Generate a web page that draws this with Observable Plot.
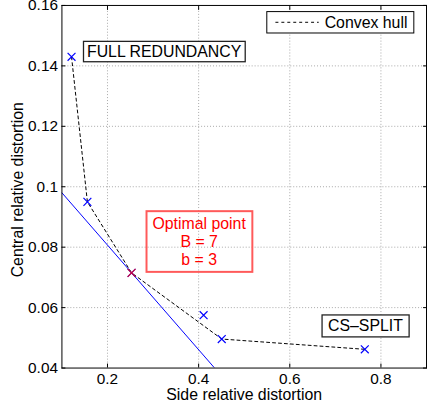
<!DOCTYPE html>
<html><head><meta charset="utf-8">
<script src="https://cdn.jsdelivr.net/npm/d3@7"></script>
<script src="https://cdn.jsdelivr.net/npm/@observablehq/plot@0.6"></script>
<style>
html,body{margin:0;padding:0;background:#fff;overflow:hidden;}
</style>
</head><body>
<div id="chart"></div>
<script>
// ---- data ----
const sideDistortion    = [0.1211, 0.1559, 0.2528, 0.4109, 0.4507, 0.7646];
const centralDistortion = [0.1430, 0.0950, 0.0715, 0.0575, 0.0496, 0.0462];
const hullSide          = [0.1211, 0.1559, 0.2528, 0.4507, 0.7646];
const hullCentral       = [0.1430, 0.0950, 0.0715, 0.0496, 0.0462];
const optimalSide       = [0.2528];
const optimalCentral    = [0.0715];
const tangentSide       = [0.1, 0.435];
const tangentCentral    = [0.0980, 0.0400];
const xTicks = [0.2, 0.4, 0.6, 0.8];
const xTickLabels = ["0.2", "0.4", "0.6", "0.8"];
const yTicks = [0.04, 0.06, 0.08, 0.10, 0.12, 0.14, 0.16];
const yTickLabels = ["0.04", "0.06", "0.08", "0.1", "0.12", "0.14", "0.16"];
const yGrid = [0.06, 0.08, 0.10, 0.12, 0.14];
const xLabel = "Side relative distortion";
const yLabel = "Central relative distortion";
const legendLabel = "Convex hull";
const fullLabel = ["FULL REDUNDANCY"], fullX = [0.3243], fullY = [0.1446];
const csLabel = ["CS–SPLIT"], csX = [0.766], csY = [0.0538];
const optLabel = ["Optimal point\nB = 7\nb = 3"], optX = [0.4011], optY = [0.0820];

const FONT = "'Liberation Sans', Arial, Helvetica, sans-serif";
const points = sideDistortion.map((x, i) => ({x, y: centralDistortion[i]}));
const hull = hullSide.map((x, i) => ({x, y: hullCentral[i]}));
const optimal = optimalSide.map((x, i) => ({x, y: optimalCentral[i]}));
const tangent = tangentSide.map((x, i) => ({x, y: tangentCentral[i]}));
const gridStyle = {stroke: "#a8a8a8", strokeOpacity: 1, strokeDasharray: "1,2", strokeWidth: 1};

const plot = Plot.plot({
  width: 431, height: 410,
  marginLeft: 62, marginRight: 1, marginTop: 5, marginBottom: 39,
  style: {fontFamily: FONT, fontSize: "15.5px", background: "#fff", color: "#000"},
  x: {domain: [0.1, 0.9]},
  y: {domain: [0.04, 0.16]},
  marks: [
    Plot.gridX(xTicks, gridStyle),
    Plot.gridY(yGrid, gridStyle),
    Plot.axisX(xTicks, {tickSize: 0, tickPadding: 5, tickFormat: d => xTickLabels[xTicks.indexOf(d)], label: null}),
    Plot.axisY(yTicks, {tickSize: 0, tickPadding: 4, tickFormat: d => yTickLabels[yTicks.indexOf(d)], label: null}),
    Plot.axisX(xTicks, {anchor: "bottom", tickSize: -4, tickFormat: () => "", label: null}),
    Plot.axisX(xTicks, {anchor: "top", tickSize: -4, tickFormat: () => "", label: null}),
    Plot.axisY(yTicks, {anchor: "left", tickSize: -4, tickFormat: () => "", label: null}),
    Plot.axisY(yTicks, {anchor: "right", tickSize: -4, tickFormat: () => "", label: null}),
    Plot.line(tangent, {x: "x", y: "y", stroke: "#0000ff", strokeWidth: 1, clip: true}),
    Plot.line(hull, {x: "x", y: "y", stroke: "#000", strokeWidth: 1, strokeDasharray: "3,3"}),
    Plot.dot(points, {x: "x", y: "y", symbol: "times", r: 3.7, stroke: "#0000ff", strokeWidth: 1.2}),
    Plot.dot(optimal, {x: "x", y: "y", symbol: "times", r: 3.7, stroke: "#ff0000", strokeOpacity: 0.8, strokeWidth: 1.2}),
    Plot.text(fullLabel, {x: fullX, y: fullY, text: d => d, fontSize: 16, fill: "#000"}),
    Plot.text(csLabel, {x: csX, y: csY, text: d => d, fontSize: 16, fill: "#000"}),
    Plot.text(optLabel, {x: optX, y: optY, text: d => d, fontSize: 16, lineHeight: 1.16, fill: "#ff0000"}),
    Plot.text([xLabel], {frameAnchor: "bottom", textAnchor: "middle", dy: 21, lineAnchor: "top", fontSize: 16, fill: "#000"}),
    Plot.text([yLabel], {frameAnchor: "left", textAnchor: "middle", rotate: -90, dx: -44, dy: 3, fontSize: 16, fill: "#000"}),
    Plot.frame({stroke: "#000", strokeWidth: 1})
  ]
});
document.getElementById("chart").appendChild(plot);

// boxes around annotations
const NS = "http://www.w3.org/2000/svg";
function boxAround(startText, {padX, padY, stroke, strokeWidth, fill}) {
  const t = [...plot.querySelectorAll("text")].find(e => e.textContent.startsWith(startText));
  if (!t) return;
  const bb = t.getBBox();
  const r = document.createElementNS(NS, "rect");
  r.setAttribute("x", bb.x - padX);
  r.setAttribute("y", bb.y - padY);
  r.setAttribute("width", bb.width + 2 * padX);
  r.setAttribute("height", bb.height + 2 * padY);
  r.setAttribute("fill", fill);
  r.setAttribute("stroke", stroke);
  r.setAttribute("stroke-width", strokeWidth);
  if (t.getAttribute("transform")) r.setAttribute("transform", t.getAttribute("transform"));
  t.parentNode.insertBefore(r, t);
}
boxAround(fullLabel[0], {padX: 3.5, padY: 1.7, stroke: "#222", strokeWidth: 1.3, fill: "#fff"});
boxAround(csLabel[0], {padX: 6, padY: 2.5, stroke: "#222", strokeWidth: 1.3, fill: "#fff"});
boxAround("Optimal point", {padX: 6, padY: 3.5, stroke: "#ff5a5a", strokeWidth: 2, fill: "none"});

// legend (top-right inside the frame)
const xRange = plot.scale("x").range, yRange = plot.scale("y").range;
const frameRight = Math.max(...xRange), frameTop = Math.min(...yRange);
const svgSel = d3.select(plot);
const lg = svgSel.append("g").attr("transform", `translate(${frameRight - 160.7},${frameTop + 6.7})`);
lg.append("rect").attr("width", 148.4).attr("height", 21.6).attr("fill", "#fff").attr("stroke", "#000").attr("stroke-width", 1);
lg.append("line").attr("x1", 8.7).attr("x2", 52.4).attr("y1", 10.8).attr("y2", 10.8)
  .attr("stroke", "#000").attr("stroke-dasharray", "3,3");
lg.append("text").attr("x", 58.4).attr("y", 10.8).attr("dy", "0.35em").attr("text-anchor", "start")
  .attr("font-size", 16).attr("font-family", FONT).attr("fill", "#000").text(legendLabel);
</script>
</body></html>
